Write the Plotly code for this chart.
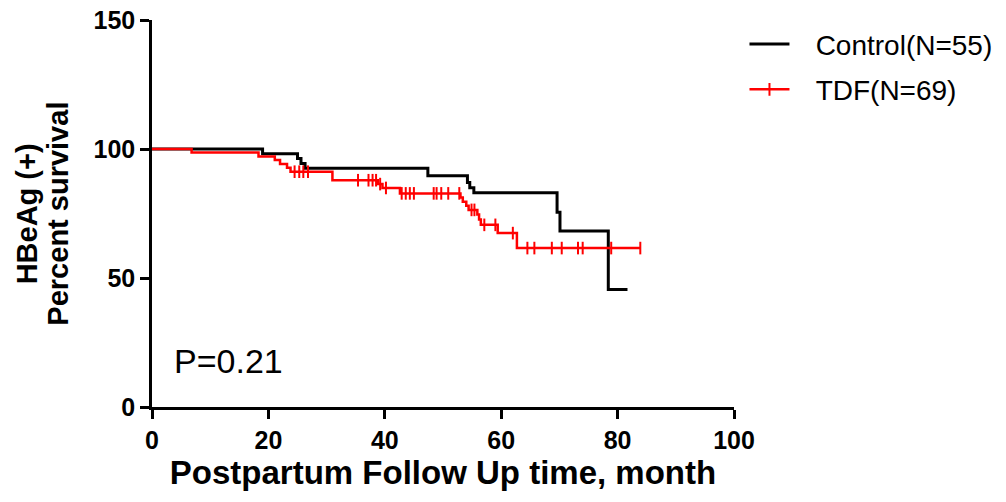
import numpy as np
import plotly.graph_objects as go

# Kaplan-Meier steps: month of each drop and the survival (%) after it
control_event_months = [19.0, 25.0, 25.6, 26.3, 47.4, 54.2, 54.6, 55.3, 69.6, 70.1, 78.4]
control_survival = [98.2, 96.3, 94.4, 92.5, 89.6, 87.0, 85.0, 83.0, 75.5, 68.2, 45.5]
control_last_month = 81.7

tdf_event_months = [6.8, 18.3, 21.1, 22.0, 23.2, 23.8, 31.0, 38.8, 39.6, 42.6,
                    53.0, 53.4, 54.0, 54.4, 55.9, 56.2, 56.5, 59.4, 62.7]
tdf_survival = [98.6, 97.1, 95.7, 94.2, 92.7, 91.2, 87.9, 86.4, 84.9, 82.8,
                81.2, 79.6, 78.0, 76.4, 74.6, 72.7, 70.6, 67.4, 61.6]
tdf_censor_months = [24.5, 25.3, 26.0, 26.8, 35.4, 37.2, 37.9, 38.5, 39.2, 40.2,
                     42.9, 43.6, 44.3, 45.0, 48.4, 48.9, 49.7, 50.9, 52.8,
                     54.9, 55.4, 57.1, 59.0, 62.0,
                     64.5, 65.7, 68.7, 70.4, 73.2, 74.0, 78.9, 83.9]
tdf_last_month = 83.9

x_ticks = [0, 20, 40, 60, 80, 100]
y_ticks = [0, 50, 100, 150]

y_title_lines = ["HBeAg (+)", "Percent survival"]

FONT = "Liberation Sans, Arial, sans-serif"
GAP = "\u00a0\u00a0\u2009"


def step_path(event_months, survival, last_month):
    xs = [0.0] + list(event_months) + [last_month]
    ys = [100.0] + list(survival) + [survival[-1]]
    return xs, ys


def survival_at(months, event_months, survival):
    ev = np.asarray(event_months)
    sv = np.concatenate([[100.0], survival])
    idx = np.searchsorted(ev, months, side="right")
    return sv[idx]


cx, cy = step_path(control_event_months, control_survival, control_last_month)
tx, ty = step_path(tdf_event_months, tdf_survival, tdf_last_month)
censor_y = survival_at(tdf_censor_months, tdf_event_months, tdf_survival)

fig = go.Figure()

fig.add_trace(go.Scatter(
    x=cx, y=cy, mode="lines", line=dict(color="black", width=3, shape="hv"),
    name=GAP + "Control(N=55)", legendgroup="a",
))
fig.add_trace(go.Scatter(
    x=tx, y=ty, mode="lines", line=dict(color="#ff0000", width=2.5, shape="hv"),
    showlegend=False, legendgroup="b", hoverinfo="skip",
))
fig.add_trace(go.Scatter(
    x=tdf_censor_months, y=censor_y, mode="markers",
    marker=dict(symbol="line-ns", size=9, line=dict(color="#ff0000", width=2)),
    showlegend=False, legendgroup="b",
))
# legend entry for TDF: line with a censor tick
fig.add_trace(go.Scatter(
    x=[None], y=[None], mode="lines+markers", name=GAP + "TDF(N=69)", legendgroup="b",
    line=dict(color="#ff0000", width=2.5),
    marker=dict(symbol="line-ns", size=9, line=dict(color="#ff0000", width=2)),
))

fig.add_annotation(
    x=3.4, y=18, xref="x", yref="y", text="P=0.21", showarrow=False,
    xanchor="left", yanchor="middle", font=dict(family=FONT, size=34, color="black"),
)

# two-line y-axis title, drawn as rotated text lines
for i, line in enumerate(y_title_lines):
    fig.add_annotation(
        x=-0.215 + i * 0.052, y=0.5, xref="paper", yref="paper", text=line,
        showarrow=False, textangle=-90, xanchor="center", yanchor="middle",
        font=dict(family=FONT, size=29, color="black", weight="bold"),
    )

axis_common = dict(
    showline=True, linecolor="black", linewidth=2.5, mirror=False,
    ticks="outside", ticklen=9, tickwidth=2.5, tickcolor="black",
    showgrid=False, zeroline=False,
    tickfont=dict(family=FONT, size=25, color="black", weight="bold"),
)

fig.update_layout(
    width=1006, height=502,
    margin=dict(l=152, r=272, t=20, b=95, autoexpand=False),
    paper_bgcolor="white", plot_bgcolor="white",
    font=dict(family=FONT, color="black"),
    xaxis=dict(
        range=[0, 100], tickvals=x_ticks, **axis_common,
        title=dict(text="Postpartum Follow Up time, month", standoff=4,
                   font=dict(family=FONT, size=33, color="black", weight="bold")),
    ),
    yaxis=dict(range=[0, 150], tickvals=y_ticks, **axis_common),
    legend=dict(
        x=1.018, y=1.002, xanchor="left", yanchor="top",
        font=dict(family=FONT, size=28, color="black"),
        traceorder="grouped", tracegroupgap=6, itemwidth=40,
        bgcolor="rgba(0,0,0,0)",
    ),
    showlegend=True,
)

fig.write_html("out.html")
